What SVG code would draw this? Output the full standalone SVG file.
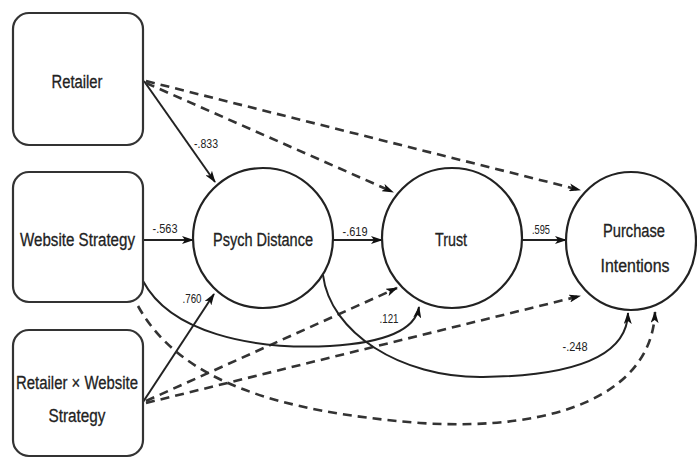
<svg xmlns="http://www.w3.org/2000/svg" width="697" height="459" viewBox="0 0 697 459">
<style>
.box{fill:#fff;stroke:#333;stroke-width:2.2}
.ell{fill:#fff;stroke:#222;stroke-width:2.2}
.t{font-family:"Liberation Sans",Arial,sans-serif;font-size:18px;fill:#222;text-anchor:middle;stroke:#222;stroke-width:0.3}
.l{font-family:"Liberation Sans",Arial,sans-serif;font-size:13px;fill:#222;text-anchor:middle}
.s{fill:none;stroke:#222;stroke-width:2;marker-end:url(#ah)}
.d{fill:none;stroke:#333;stroke-width:2.6;stroke-dasharray:9 6;marker-end:url(#ah)}
</style>
<defs>
<marker id="ah" viewBox="0 0 12 8" refX="11" refY="4" markerWidth="12" markerHeight="8" markerUnits="userSpaceOnUse" orient="auto">
<path d="M0,0 L12,4 L0,8 L3,4 z" fill="#111"/>
</marker>
</defs>
<rect width="697" height="459" fill="#fff"/>
<g id="connectors">
<path class="s" d="M144,81 L215,182"/>
<path class="d" d="M146,83 L393,192"/>
<path class="d" d="M146,81 L580,190"/>
<path class="s" d="M144,240 L193,240"/>
<path class="s" d="M333,240 L382,240"/>
<path class="s" d="M522,240 L566,240"/>
<path class="s" d="M143,402 L214,294"/>
<path class="d" d="M146,401 L397,288"/>
<path class="d" d="M146,403 L580,296"/>
<path class="s" d="M143,281 C170,332 250,350 330,346 C380,343 415,332 419,307"/>
<path class="s" d="M323,275 C330,332 400,378 483,377 C565,376 627,360 628,313"/>
<path class="d" d="M138,306 C180,382 280,412 420,423 C560,432 652,392 655,312"/>
</g>
<g id="labels">
<text class="l" x="206" y="148" textLength="24" lengthAdjust="spacingAndGlyphs">-.833</text>
<text class="l" x="165" y="233" textLength="25" lengthAdjust="spacingAndGlyphs">-.563</text>
<text class="l" x="355" y="236" textLength="25" lengthAdjust="spacingAndGlyphs">-.619</text>
<text class="l" x="541" y="234" textLength="18" lengthAdjust="spacingAndGlyphs">.595</text>
<text class="l" x="192" y="303" textLength="19" lengthAdjust="spacingAndGlyphs">.760</text>
<text class="l" x="389" y="323" textLength="19" lengthAdjust="spacingAndGlyphs">.121</text>
<text class="l" x="575" y="351" textLength="25" lengthAdjust="spacingAndGlyphs">-.248</text>
</g>
<g id="retailer">
<rect class="box" x="13" y="13" width="130" height="132" rx="16"/>
<text class="t" x="77" y="88" textLength="51" lengthAdjust="spacingAndGlyphs">Retailer</text>
</g>
<g id="website-strategy">
<rect class="box" x="13" y="172" width="130" height="130" rx="16"/>
<text class="t" x="77.5" y="246" textLength="115" lengthAdjust="spacingAndGlyphs">Website Strategy</text>
</g>
<g id="retailer-x-website">
<rect class="box" x="13" y="330" width="130" height="126" rx="16"/>
<text class="t" x="77" y="389" textLength="122" lengthAdjust="spacingAndGlyphs">Retailer × Website</text>
<text class="t" x="77" y="422" textLength="57" lengthAdjust="spacingAndGlyphs">Strategy</text>
</g>
<g id="psych-distance">
<ellipse class="ell" cx="263" cy="238" rx="70" ry="70"/>
<text class="t" x="263" y="246" textLength="100" lengthAdjust="spacingAndGlyphs">Psych Distance</text>
</g>
<g id="trust">
<ellipse class="ell" cx="452" cy="238" rx="70" ry="70"/>
<text class="t" x="451" y="246" textLength="32" lengthAdjust="spacingAndGlyphs">Trust</text>
</g>
<g id="purchase-intentions">
<ellipse class="ell" cx="631" cy="241" rx="65" ry="69"/>
<text class="t" x="634" y="237" textLength="62" lengthAdjust="spacingAndGlyphs">Purchase</text>
<text class="t" x="635" y="272" textLength="69" lengthAdjust="spacingAndGlyphs">Intentions</text>
</g>
</svg>
